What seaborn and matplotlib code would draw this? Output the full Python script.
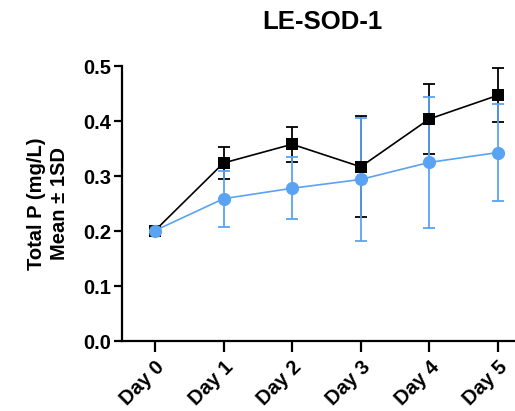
import matplotlib
matplotlib.use("Agg")
import matplotlib.pyplot as plt
import seaborn as sns
import numpy as np
import pandas as pd

days = ["Day 0", "Day 1", "Day 2", "Day 3", "Day 4", "Day 5"]
black_mean = [0.201, 0.324, 0.358, 0.317, 0.404, 0.447]
black_sd = [0.0, 0.029, 0.032, 0.092, 0.063, 0.049]
blue_mean = [0.201, 0.259, 0.278, 0.294, 0.325, 0.343]
blue_sd = [0.0, 0.051, 0.056, 0.112, 0.119, 0.089]

sns.set_style("ticks", {"axes.edgecolor": "black", "text.color": "black",
                        "axes.labelcolor": "black", "xtick.color": "black",
                        "ytick.color": "black"})
plt.rcParams["font.family"] = ["Liberation Sans", "DejaVu Sans"]
plt.rcParams["font.weight"] = "bold"

fig = plt.figure(figsize=(5.15, 4.11), dpi=100)
ax = fig.add_axes([0.237, 0.170, 0.763, 0.669])

x = np.arange(len(days))
df = pd.DataFrame({
    "x": np.concatenate([x, x]),
    "mean": black_mean + blue_mean,
    "group": ["A"] * len(days) + ["B"] * len(days),
})

blue = "#5AA2F2"
styles = [("A", black_mean, black_sd, "black", "s", 9),
          ("B", blue_mean, blue_sd, blue, "o", 9.5)]
for name, m, sd, col, mk, ms in styles:
    sd = np.asarray(sd)
    keep = sd > 0
    ax.errorbar(x[keep], np.asarray(m)[keep], yerr=sd[keep], fmt="none",
                ecolor=col, elinewidth=1.3, capsize=4.5, capthick=1.3,
                zorder=2)
    sns.lineplot(data=df[df["group"] == name], x="x", y="mean", ax=ax,
                 color=col, marker=mk, markersize=ms, markeredgewidth=0,
                 linewidth=1.2, zorder=3)

ax.set_xlim(-0.48, 5.25)
ax.set_ylim(0, 0.5)
ax.set_yticks([0.0, 0.1, 0.2, 0.3, 0.4, 0.5])
ax.set_yticklabels(["0.0", "0.1", "0.2", "0.3", "0.4", "0.5"],
                   fontsize=14.5, fontweight="bold")
ax.set_xticks(x)
ax.set_xticklabels(days, rotation=45, ha="right", rotation_mode="anchor",
                   fontsize=14.5, fontweight="bold")
ax.set_xlabel("")
ax.set_ylabel("Total P (mg/L)\nMean ± 1SD", fontsize=14.5, fontweight="bold",
              labelpad=10, linespacing=1.3)
ax.set_title("LE-SOD-1", fontsize=18.5, fontweight="bold", pad=27, x=0.51)

sns.despine(ax=ax)
for s in ["left", "bottom"]:
    ax.spines[s].set_linewidth(1.6)
    ax.spines[s].set_color("black")
ax.tick_params(axis="y", width=1.6, length=6, color="black", pad=2)
ax.tick_params(axis="x", width=1.6, length=8, color="black", pad=4)

fig.savefig("out.png", dpi=100)
